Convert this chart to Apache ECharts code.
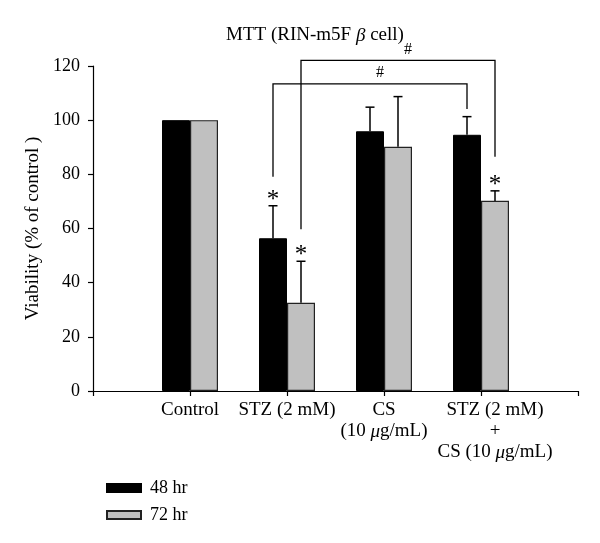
<!DOCTYPE html>
<html>
<head>
<meta charset="utf-8">
<script src="https://cdn.jsdelivr.net/npm/echarts@6/dist/echarts.min.js"></script>
<style>html,body{margin:0;padding:0;background:#fff}#c{width:600px;height:543px}</style>
</head>
<body>
<div id="c"></div>
<script>
// ---- data ----
const categories = ['Control', 'STZ (2 mM)', 'CS\n(10 μg/mL)', 'STZ (2 mM)\n+\nCS (10 μg/mL)'];
const seriesNames = ['48 hr', '72 hr'];
const values48 = [100, 56.4, 95.9, 94.6];
const values72 = [100, 32.6, 90.2, 70.2];
const err48 = [0, 12.0, 8.9, 6.7];
const err72 = [0, 15.3, 18.5, 3.7];
const star48 = [false, true, false, false];
const star72 = [false, true, false, true];
const yTicks = [0, 20, 40, 60, 80, 100, 120];
// brackets: [fromCategory, fromSeries, fromY, toCategory, toSeries, toY, topY, label]
const brackets = [
  [1, 0, 79.1, 3, 0, 104.1, 113.4, '#'],
  [1, 1, 59.7, 3, 1, 86.5, 122.1, '#']
];

const FONT = 'Liberation Serif';
const BAR_W = 28;
const colors = ['#000000', '#c0c0c0'];

const xData = [''].concat(categories, ['']).map((c, i) => {
  const item = { value: c };
  if (i === categories.length) item.textStyle = { padding: [0, 0, 0, 28] };
  return item;
});

function pad(arr) { return ['-'].concat(arr, ['-']); }

function errSeries(si, vals, errs, stars) {
  const off = (si === 0 ? -1 : 1) * BAR_W / 2;
  return {
    type: 'custom',
    clip: false,
    z: 5,
    data: vals.map((v, i) => [i + 1, v, errs[i], stars[i] ? 1 : 0]),
    renderItem: function (params, api) {
      const b = api.coord([api.value(0), api.value(1)]);
      const t = api.coord([api.value(0), api.value(1) + api.value(2)]);
      const x = b[0] + off;
      const children = [];
      if (api.value(2) > 0) {
        children.push({ type: 'line', shape: { x1: x, y1: b[1], x2: x, y2: t[1] }, style: { stroke: '#000', lineWidth: 1.5 } });
        children.push({ type: 'line', shape: { x1: x - 4.5, y1: t[1], x2: x + 4.5, y2: t[1] }, style: { stroke: '#000', lineWidth: 1.5 } });
      }
      if (api.value(3)) {
        children.push({ type: 'text', x: x, y: t[1] + 7, style: { text: '*', font: '25px ' + FONT, fill: '#000', align: 'center', verticalAlign: 'bottom' } });
      }
      return { type: 'group', children: children };
    }
  };
}

const option = {
  animation: false,
  title: {
    text: 'MTT (RIN-m5F {i|β} cell)',
    left: 310, top: 21, textAlign: 'center',
    textStyle: { fontFamily: FONT, fontSize: 19, fontWeight: 'normal', color: '#000',
      rich: { i: { fontFamily: FONT, fontSize: 19, fontStyle: 'italic', color: '#000' } } }
  },
  legend: {
    orient: 'vertical', left: 106, top: 479, padding: 0,
    itemWidth: 34, itemHeight: 8, itemGap: 9,
    icon: 'rect',
    data: seriesNames,
    textStyle: { fontFamily: FONT, fontSize: 18, color: '#000', lineHeight: 16, padding: [0, 0, 0, 4] }
  },
  grid: { left: 93, right: 22, top: 66, bottom: 152 },
  xAxis: {
    type: 'category',
    data: xData,
    boundaryGap: false,
    axisLine: { lineStyle: { color: '#000', width: 1.2 } },
    axisTick: { show: true, length: 5, lineStyle: { color: '#000', width: 1.2 } },
    axisLabel: {
      interval: 0, margin: 9, color: '#000', fontFamily: FONT, fontSize: 19, lineHeight: 21,
      formatter: function (v) { return v.replace(/μ/g, '{i|μ}'); },
      rich: { i: { fontFamily: FONT, fontSize: 19, fontStyle: 'italic', color: '#000', lineHeight: 21 } }
    },
    splitLine: { show: false }
  },
  yAxis: {
    type: 'value', min: yTicks[0], max: yTicks[yTicks.length - 1], interval: 20,
    name: 'Viability (% of control )', nameLocation: 'middle', nameGap: 47,
    nameTextStyle: { fontFamily: FONT, fontSize: 19, color: '#000' },
    axisLine: { show: true, lineStyle: { color: '#000', width: 1.2 } },
    axisTick: { show: true, length: 5, lineStyle: { color: '#000', width: 1.2 } },
    axisLabel: { color: '#000', fontFamily: FONT, fontSize: 18, margin: 13 },
    splitLine: { show: false }
  },
  series: [
    { name: seriesNames[0], type: 'bar', data: pad(values48), barWidth: BAR_W, barGap: '0%',
      itemStyle: { color: colors[0], borderColor: '#000', borderWidth: 1 } },
    { name: seriesNames[1], type: 'bar', data: pad(values72), barWidth: BAR_W, barGap: '0%',
      itemStyle: { color: colors[1], borderColor: '#222', borderWidth: 1.2 } },
    errSeries(0, values48, err48, star48),
    errSeries(1, values72, err72, star72),
    {
      type: 'custom', clip: false, z: 6,
      data: brackets.map(b => [b[0] + 1, b[1], b[2], b[3] + 1, b[4], b[5], b[6]]),
      renderItem: function (params, api) {
        const lab = brackets[params.dataIndex][7];
        const o1 = (api.value(1) === 0 ? -1 : 1) * BAR_W / 2;
        const o2 = (api.value(4) === 0 ? -1 : 1) * BAR_W / 2;
        const p1 = api.coord([api.value(0), api.value(2)]);
        const p2 = api.coord([api.value(3), api.value(5)]);
        const top = api.coord([api.value(0), api.value(6)])[1];
        const x1 = p1[0] + o1, x2 = p2[0] + o2;
        return { type: 'group', children: [
          { type: 'polyline', shape: { points: [[x1, p1[1]], [x1, top], [x2, top], [x2, p2[1]]] },
            style: { stroke: '#000', lineWidth: 1.3, fill: null } },
          { type: 'text', x: (x1 + x2) / 2 + 10, y: top - 3,
            style: { text: lab, font: '16px ' + FONT, fill: '#000', align: 'center', verticalAlign: 'bottom' } }
        ] };
      }
    }
  ]
};

const chart = echarts.init(document.getElementById('c'));
chart.setOption(option);
</script>
</body>
</html>
